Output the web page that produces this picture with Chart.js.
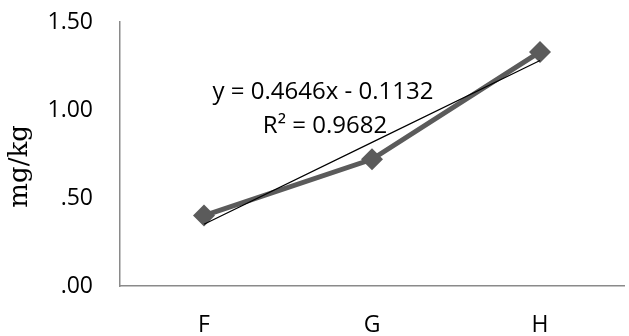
<!DOCTYPE html>
<html>
<head>
<meta charset="utf-8">
<script src="https://cdn.jsdelivr.net/npm/chart.js@4"></script>
<style>
  html, body { margin: 0; padding: 0; background: #fff; }
  #wrap { width: 629px; height: 336px; }
</style>
</head>
<body>
<div id="wrap"><canvas id="chart"></canvas></div>
<script>
// Chart data
const categories = ['F', 'G', 'H'];
const values = [0.40, 0.72, 1.33];
const trendValues = [0.351, 0.816, 1.281];
const yTicks = [0, 0.5, 1.0, 1.5];
const equationText = 'y = 0.4646x - 0.1132';
const r2Text = 'R\u00B2 = 0.9682';

const textFont = '"Open Sans", "Liberation Sans", sans-serif';

// draws the trendline equation inside the plot
const trendLabel = {
  id: 'trendLabel',
  afterDatasetsDraw(chart) {
    const { ctx, chartArea } = chart;
    ctx.save();
    ctx.fillStyle = '#000';
    ctx.font = '24px ' + textFont;
    ctx.textAlign = 'center';
    ctx.textBaseline = 'middle';
    ctx.fillText(equationText, chartArea.left + 203, chartArea.top + 70);
    ctx.fillText(r2Text, chartArea.left + 205, chartArea.top + 104);
    ctx.restore();
  }
};

new Chart(document.getElementById('chart').getContext('2d'), {
  type: 'line',
  data: {
    labels: categories,
    datasets: [{
      label: 'Trend',
      data: trendValues,
      borderColor: '#000',
      borderWidth: 1.2,
      pointRadius: 0,
      tension: 0,
      order: 0
    }, {
      label: 'mg/kg',
      data: values,
      borderColor: '#5b5b5b',
      backgroundColor: '#5b5b5b',
      borderWidth: 5,
      pointStyle: 'rectRot',
      pointRadius: 11,
      pointBorderWidth: 0,
      tension: 0,
      order: 1
    }]
  },
  options: {
    responsive: true,
    maintainAspectRatio: false,
    animation: false,
    layout: {
      autoPadding: false,
      padding: { top: 22, right: 5, bottom: 0, left: 0 }
    },
    plugins: {
      legend: { display: false },
      tooltip: { enabled: false }
    },
    scales: {
      x: {
        offset: true,
        grid: { display: false, drawTicks: false },
        border: { display: true, color: '#8a8a8a', width: 1.5 },
        ticks: {
          color: '#000',
          padding: 26,
          font: { family: textFont, size: 23 }
        },
        afterFit(scale) { scale.height = 50; }
      },
      y: {
        min: 0,
        max: 1.5,
        grid: { display: false, drawTicks: false },
        border: { display: true, color: '#8a8a8a', width: 1.5 },
        afterBuildTicks(scale) {
          scale.ticks = yTicks.map(v => ({ value: v }));
        },
        ticks: {
          color: '#000',
          padding: 27,
          font: { family: textFont, size: 23 },
          callback: v => v.toFixed(2).replace(/^0/, '')
        },
        title: {
          display: true,
          // trailing spaces nudge the rotated title down a bit
          text: 'mg/kg\u00A0\u00A0\u00A0',
          color: '#000',
          padding: { top: 5, bottom: 0 },
          font: { family: '"DejaVu Serif", serif', size: 26 }
        },
        afterFit(scale) {
          scale.width = 120;
          scale.paddingTop = 0;
          scale.paddingBottom = 0;
        }
      }
    }
  },
  plugins: [trendLabel]
});
</script>
</body>
</html>
